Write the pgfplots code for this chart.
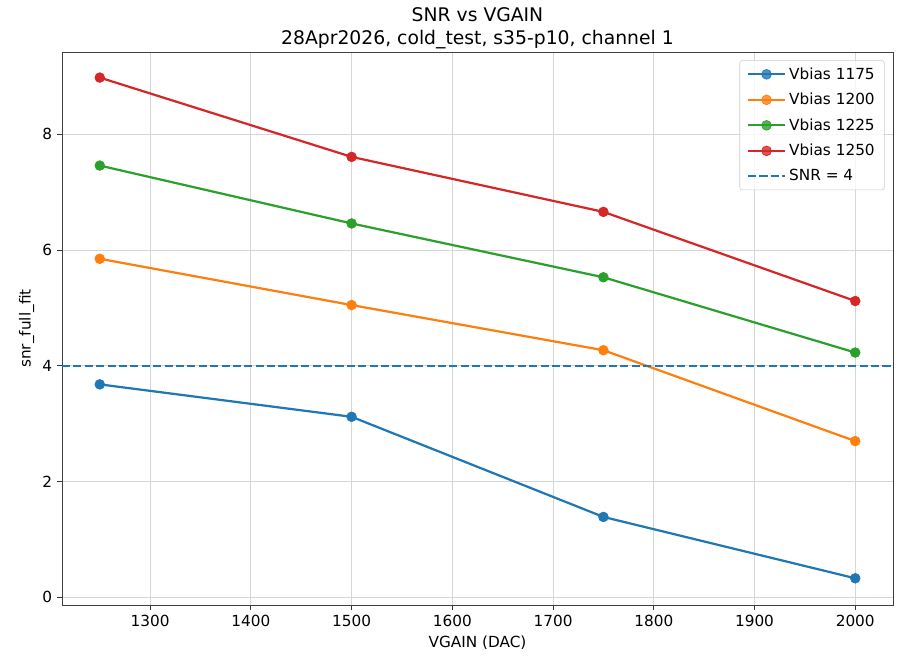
\documentclass[border=0pt]{standalone}
\usepackage{fontspec}
\setmainfont{DejaVu Sans}
\usepackage{pgfplots}
\pgfplotsset{compat=1.18}
\definecolor{tabblue}{HTML}{1F77B4}
\definecolor{taborange}{HTML}{FF7F0E}
\definecolor{tabgreen}{HTML}{2CA02C}
\definecolor{tabred}{HTML}{D62728}
\begin{document}
\begin{tikzpicture}
\begin{axis}[
  scale only axis,
  width=598pt, height=398pt,
  xmin=1212.5, xmax=2037.5,
  ymin=-0.1325, ymax=9.4225,
  xtick={1300,1400,1500,1600,1700,1800,1900,2000},
  ytick={0,2,4,6,8},
  /pgf/number format/assume math mode=true,
  /pgf/number format/1000 sep={},
  tick label style={font=\fontsize{11pt}{13pt}\selectfont, color=black},
  label style={font=\fontsize{11pt}{13pt}\selectfont},
  xlabel={VGAIN (DAC)},
  ylabel={snr\_full\_fit},
  xlabel style={yshift=0pt},
  ylabel style={yshift=-1pt},
  title style={font=\fontsize{13.5pt}{16pt}\selectfont, align=center, yshift=-7pt},
  title={SNR vs VGAIN\\28Apr2026, cold\_test, s35-p10, channel 1},
  grid=major,
  major grid style={color=black!16, line width=0.6pt},
  axis line style={color=black!75, line width=0.6pt},
  tick align=outside,
  tick pos=left,
  major tick length=3.5pt,
  every tick/.style={color=black!80, line width=0.6pt},
  legend cell align=left,
  legend style={font=\fontsize{11pt}{13pt}\selectfont, draw=black!20, rounded corners=2pt, fill=white, fill opacity=0.8, text opacity=1, inner xsep=5pt, inner ysep=3pt, at={(0.99,0.985)}, anchor=north east, row sep=4.5pt},
  legend image code/.code={\draw[mark repeat=2, mark phase=2] plot coordinates {(0pt,0pt) (13.5pt,0pt) (27pt,0pt)};},
  every axis plot/.append style={line width=1.6pt},
  mark size=3.5pt,
]
\addplot[color=tabblue, mark=*, mark options={solid, fill=tabblue, draw=tabblue, line width=0.5pt}] coordinates {(1250,3.68) (1500,3.12) (1750,1.39) (2000,0.33)};
\addlegendentry{Vbias 1175}
\addplot[color=taborange, mark=*, mark options={solid, fill=taborange, draw=taborange, line width=0.5pt}] coordinates {(1250,5.85) (1500,5.05) (1750,4.27) (2000,2.70)};
\addlegendentry{Vbias 1200}
\addplot[color=tabgreen, mark=*, mark options={solid, fill=tabgreen, draw=tabgreen, line width=0.5pt}] coordinates {(1250,7.46) (1500,6.46) (1750,5.53) (2000,4.23)};
\addlegendentry{Vbias 1225}
\addplot[color=tabred, mark=*, mark options={solid, fill=tabred, draw=tabred, line width=0.5pt}] coordinates {(1250,8.98) (1500,7.61) (1750,6.66) (2000,5.12)};
\addlegendentry{Vbias 1250}
\addplot[color=tabblue, dash pattern=on 5.8pt off 2.4pt, no marks, line width=1.6pt] coordinates {(1212.5,4) (2037.5,4)};
\addlegendentry{SNR = 4}
\end{axis}
\pgfresetboundingbox
\path[use as bounding box] (current axis.south west) ++(-44.6pt,-36.7pt) rectangle ([xshift=11.5pt,yshift=37.4pt]current axis.north east);
\end{tikzpicture}
\end{document}
